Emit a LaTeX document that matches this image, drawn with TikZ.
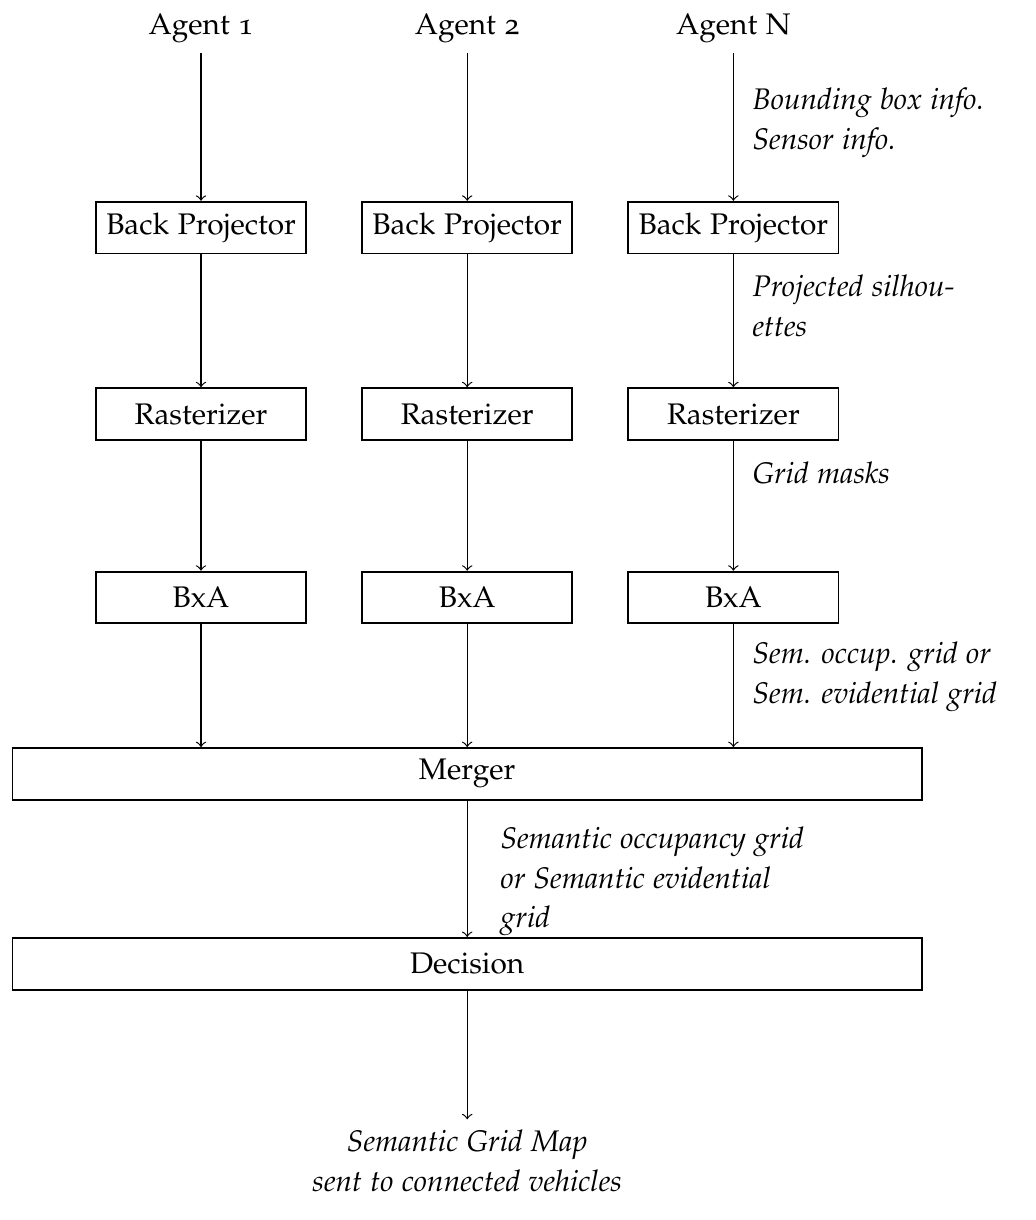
\documentclass[tikz,border=0pt]{standalone}
\usepackage[T1]{fontenc}
\usepackage[osf]{mathpazo}
\usetikzlibrary{positioning}
\tikzset{
  stage/.style  = {draw, rectangle, semithick, align=center,
                   minimum height=0.61cm, minimum width=2.48cm},
  wide/.style   = {stage, minimum width=10.73cm},
  arr/.style    = {->},
  lbl/.style    = {font=\fontsize{10pt}{13.4pt}\selectfont\itshape,
                   align=left, anchor=west, inner sep=0pt},
  outlbl/.style = {font=\fontsize{10pt}{13.4pt}\selectfont\itshape,
                   align=center}
}

\begin{document}
\begin{tikzpicture}
  \useasboundingbox (0,0) rectangle (12.213,-14.396);

  % ── one column per agent ──────────────────────────────────────────
  \node[stage]                      (bp1)  at (2.372,-2.685) {Back Projector};
  \node[stage, right=0.64cm of bp1] (bp2)  {Back Projector};
  \node[stage, right=0.64cm of bp2] (bp3)  {Back Projector};

  \node[above=1.74cm of bp1] (ag1) {Agent 1};
  \node[above=1.74cm of bp2] (ag2) {Agent 2};
  \node[above=1.74cm of bp3] (ag3) {Agent N};

  \node[stage, below=1.569cm of bp1] (ras1) {Rasterizer};
  \node[stage, below=1.569cm of bp2] (ras2) {Rasterizer};
  \node[stage, below=1.569cm of bp3] (ras3) {Rasterizer};

  \node[stage, below=1.534cm of ras1] (bxa1) {BxA};
  \node[stage, below=1.534cm of ras2] (bxa2) {BxA};
  \node[stage, below=1.534cm of ras3] (bxa3) {BxA};

  % ── fusion and decision ───────────────────────────────────────────
  \node[wide, below=1.45cm of bxa2]      (merger)   {Merger};
  \node[wide, below=1.61cm of merger]    (decision) {Decision};
  \node[outlbl, below=1.52cm of decision] (out)
        {Semantic Grid Map\\sent to connected vehicles};

  % ── connections ───────────────────────────────────────────────────
  \foreach \i in {1,2,3} {
    \draw[arr] (ag\i)  -- (bp\i);
    \draw[arr] (bp\i)  -- (ras\i);
    \draw[arr] (ras\i) -- (bxa\i);
    \draw[arr] (bxa\i) -- (bxa\i |- merger.north);
  }
  \draw[arr] (merger)   -- (decision);
  \draw[arr] (decision) -- (out);

  % ── data labels ───────────────────────────────────────────────────
  \node[lbl] (lblbox)  at (8.874,-1.45)  {Bounding box info.\\Sensor info.};
  \node[lbl] (lblsil)  at (8.874,-3.611) {Projected silhou-\\ettes};
  \node[lbl] (lblmask) at (8.874,-5.581) {Grid masks};
  \node[lbl] (lblsem)  at (8.874,-7.989) {Sem. occup. grid or\\Sem. evidential grid};
  \node[lbl] (lblgrid) at (5.9,-10.40)   {Semantic occupancy grid\\or Semantic evidential\\grid};

\end{tikzpicture}
\end{document}
